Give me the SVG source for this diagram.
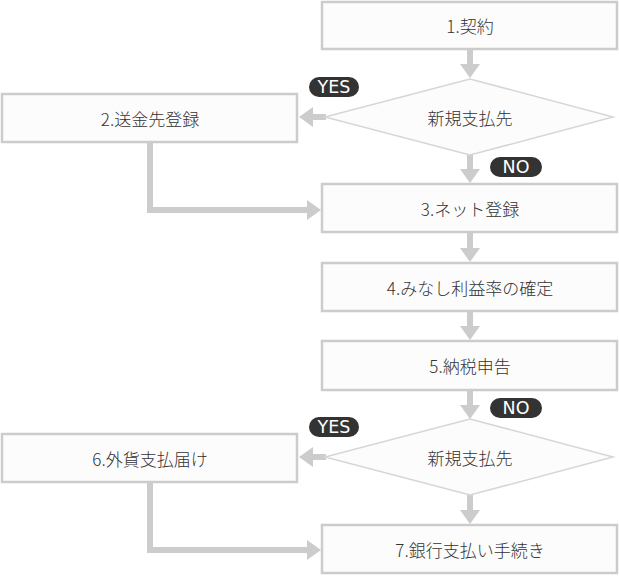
<svg xmlns="http://www.w3.org/2000/svg" width="619" height="576" viewBox="0 0 619 576">
<style>
.box{fill:#fcfcfc;stroke:#cccccc;stroke-width:2.5}
.dia{fill:#fcfcfc;stroke:#d6d6d6;stroke-width:1.5}
.t{font-family:"Noto Sans CJK JP","Noto Sans",sans-serif;font-size:17px;font-weight:300;fill:#333333;text-anchor:middle;dominant-baseline:central}
.pill{fill:#333333}
.pt{font-family:"DejaVu Sans","Noto Sans",sans-serif;font-size:17.5px;fill:#ffffff;text-anchor:middle;dominant-baseline:central}
.ln{fill:none;stroke:#cccccc;stroke-width:6}
.hd{fill:#cccccc}
</style>
<rect width="619" height="576" fill="#ffffff"/>
<g id="connectors">
<line class="ln" x1="470" y1="50" x2="470" y2="65"/><polygon class="hd" points="460,64 480,64 470,78"/>
<line class="ln" x1="470" y1="155" x2="470" y2="170"/><polygon class="hd" points="460,169 480,169 470,183"/>
<line class="ln" x1="326" y1="117" x2="311" y2="117"/><polygon class="hd" points="313,107 313,127 299,117"/>
<polyline class="ln" points="150,143 150,210 308,210"/><polygon class="hd" points="307,200 307,220 321,210"/>
<line class="ln" x1="470" y1="233" x2="470" y2="249"/><polygon class="hd" points="460,248 480,248 470,262"/>
<line class="ln" x1="470" y1="312" x2="470" y2="327"/><polygon class="hd" points="460,326 480,326 470,340"/>
<line class="ln" x1="470" y1="391" x2="470" y2="406"/><polygon class="hd" points="460,405 480,405 470,419"/>
<line class="ln" x1="470" y1="495" x2="470" y2="511"/><polygon class="hd" points="460,510 480,510 470,524"/>
<line class="ln" x1="326" y1="457" x2="311" y2="457"/><polygon class="hd" points="313,447 313,467 299,457"/>
<polyline class="ln" points="150,483 150,550 308,550"/><polygon class="hd" points="307,540 307,560 321,550"/>
</g>
<g id="n1"><rect class="box" x="322" y="2" width="295" height="47"/><text class="t" x="470" y="25.5">1.契約</text></g>
<g id="d1"><polygon class="dia" points="470,79 613,117 470,155 325,117"/><text class="t" x="470" y="117">新規支払先</text></g>
<g id="yes1"><rect class="pill" x="309" y="77" width="50" height="20" rx="10"/><text class="pt" x="334" y="87">YES</text></g>
<g id="no1"><rect class="pill" x="490" y="157" width="52" height="20" rx="10"/><text class="pt" x="516" y="167">NO</text></g>
<g id="n2"><rect class="box" x="2" y="94" width="295" height="48"/><text class="t" x="150" y="118">2.送金先登録</text></g>
<g id="n3"><rect class="box" x="322" y="184" width="295" height="48"/><text class="t" x="470" y="208">3.ネット登録</text></g>
<g id="n4"><rect class="box" x="322" y="263" width="295" height="48"/><text class="t" x="470" y="287">4.みなし利益率の確定</text></g>
<g id="n5"><rect class="box" x="322" y="341" width="295" height="49"/><text class="t" x="470" y="365.5">5.納税申告</text></g>
<g id="no2"><rect class="pill" x="490" y="398" width="52" height="20" rx="10"/><text class="pt" x="516" y="408">NO</text></g>
<g id="d2"><polygon class="dia" points="470,419 613,457 470,495 325,457"/><text class="t" x="470" y="457">新規支払先</text></g>
<g id="yes2"><rect class="pill" x="309" y="417" width="50" height="20" rx="10"/><text class="pt" x="334" y="427">YES</text></g>
<g id="n6"><rect class="box" x="2" y="434" width="295" height="48"/><text class="t" x="150" y="458">6.外貨支払届け</text></g>
<g id="n7"><rect class="box" x="322" y="525" width="295" height="48"/><text class="t" x="470" y="549">7.銀行支払い手続き</text></g>
</svg>
